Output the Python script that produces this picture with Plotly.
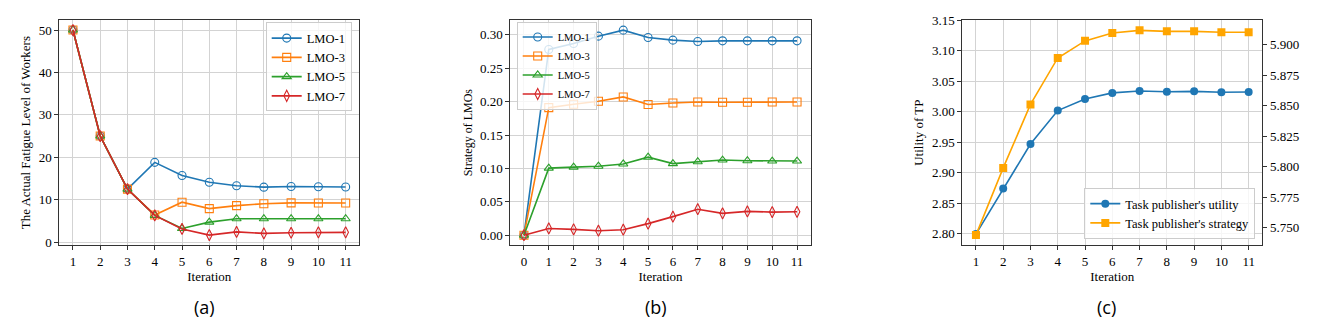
import plotly.graph_objects as go

# ---------------- data ----------------
iter_a = [1, 2, 3, 4, 5, 6, 7, 8, 9, 10, 11]
fatigue_lmo1 = [50, 25, 12.5, 18.8, 15.7, 14.1, 13.3, 12.95, 13.1, 13.05, 13.0]
fatigue_lmo3 = [50, 25, 12.5, 6.4, 9.4, 7.9, 8.6, 9.05, 9.25, 9.2, 9.2]
fatigue_lmo5 = [50, 25, 12.5, 6.3, 3.2, 4.7, 5.5, 5.5, 5.5, 5.5, 5.5]
fatigue_lmo7 = [50, 25, 12.5, 6.3, 3.1, 1.65, 2.4, 2.05, 2.2, 2.3, 2.3]

iter_b = [0, 1, 2, 3, 4, 5, 6, 7, 8, 9, 10, 11]
strategy_lmo1 = [0, 0.278, 0.287, 0.298, 0.307, 0.296, 0.292, 0.290, 0.291, 0.291, 0.291, 0.291]
strategy_lmo3 = [0, 0.191, 0.196, 0.2005, 0.207, 0.1956, 0.198, 0.1995, 0.199, 0.199, 0.1995, 0.1995]
strategy_lmo5 = [0, 0.1004, 0.1019, 0.1033, 0.1067, 0.1168, 0.1072, 0.110, 0.1125, 0.1115, 0.111, 0.111]
strategy_lmo7 = [0, 0.0101, 0.0087, 0.0067, 0.0082, 0.0173, 0.0278, 0.0389, 0.0327, 0.0356, 0.0346, 0.035]

iter_c = [1, 2, 3, 4, 5, 6, 7, 8, 9, 10, 11]
tp_utility = [2.799, 2.874, 2.947, 3.002, 3.021, 3.031, 3.034, 3.033, 3.0335, 3.032, 3.0325]
tp_strategy = [5.744, 5.799, 5.851, 5.889, 5.903, 5.9095, 5.9116, 5.9108, 5.9108, 5.910, 5.910]

lmo_names = ["LMO-1", "LMO-3", "LMO-5", "LMO-7"]
ticks_a_y = [0, 10, 20, 30, 40, 50]
ticks_b_y = [0.00, 0.05, 0.10, 0.15, 0.20, 0.25, 0.30]
ticks_c_y = [2.80, 2.85, 2.90, 2.95, 3.00, 3.05, 3.10, 3.15]
ticks_c_y2 = [5.750, 5.775, 5.800, 5.825, 5.850, 5.875, 5.900]
captions = ["(a)", "(b)", "(c)"]

# ---------------- style ----------------
colors = ["#1f77b4", "#ff7f0e", "#2ca02c", "#d62728"]
symbols = ["circle-open", "square-open", "triangle-up-open", "diamond-tall-open"]
SERIF = "Liberation Serif"
W, H = 1321, 330
FS = 13

def px_x(a, b):
    return [a / W, b / W]

y_dom = [1 - 246.7 / H, 1 - 13.3 / H]

fig = go.Figure()

for name, ys, c, s in zip(lmo_names, [fatigue_lmo1, fatigue_lmo3, fatigue_lmo5, fatigue_lmo7], colors, symbols):
    fig.add_trace(go.Scatter(x=iter_a, y=ys, name=name, mode="lines+markers",
                             line=dict(color=c, width=1.6),
                             marker=dict(symbol=s, size=8, color=c, line=dict(width=1.1, color=c)),
                             xaxis="x", yaxis="y", legend="legend"))

for name, ys, c, s in zip(lmo_names, [strategy_lmo1, strategy_lmo3, strategy_lmo5, strategy_lmo7], colors, symbols):
    fig.add_trace(go.Scatter(x=iter_b, y=ys, name=name, mode="lines+markers",
                             line=dict(color=c, width=1.6),
                             marker=dict(symbol=s, size=8, color=c, line=dict(width=1.1, color=c)),
                             xaxis="x2", yaxis="y2", legend="legend2"))

fig.add_trace(go.Scatter(x=iter_c, y=tp_utility, name="Task publisher's utility", mode="lines+markers",
                         line=dict(color="#1f77b4", width=1.6),
                         marker=dict(symbol="circle", size=8, color="#1f77b4"),
                         xaxis="x3", yaxis="y3", legend="legend3"))
fig.add_trace(go.Scatter(x=iter_c, y=tp_strategy, name="Task publisher's strategy", mode="lines+markers",
                         line=dict(color="orange", width=1.6),
                         marker=dict(symbol="square", size=8, color="orange"),
                         xaxis="x3", yaxis="y4", legend="legend3"))

axis_common = dict(showline=True, linecolor="#333", linewidth=1, mirror=True,
                   showgrid=True, gridcolor="#d3d3d3", gridwidth=1,
                   ticks="outside", ticklen=4, tickcolor="#333", tickwidth=1,
                   tickfont=dict(family=SERIF, size=FS, color="black"),
                   zeroline=False)
title_font = dict(family=SERIF, size=FS, color="black")

legend_common = dict(bgcolor="rgba(255,255,255,0.8)", bordercolor="#cccccc", borderwidth=1,
                     font=dict(family=SERIF, size=12.5, color="black"),
                     tracegroupgap=0, itemwidth=30)

fig.update_layout(
    width=W, height=H, margin=dict(l=0, r=0, t=0, b=0),
    font=dict(family=SERIF, size=FS, color="black"),
    plot_bgcolor="white", paper_bgcolor="white",
    xaxis=dict(domain=px_x(59.3, 359.3), anchor="y", range=[0.5, 11.5],
               tickvals=iter_a, title=dict(text="Iteration", font=title_font, standoff=3), **axis_common),
    yaxis=dict(domain=y_dom, anchor="x", range=[-0.8, 52.4], tickvals=ticks_a_y,
               title=dict(text="The Actual Fatigue Level of Workers", font=title_font, standoff=5), **axis_common),
    xaxis2=dict(domain=px_x(510.3, 810.7), anchor="y2", range=[-0.55, 11.55],
                tickvals=iter_b, title=dict(text="Iteration", font=title_font, standoff=3), **axis_common),
    yaxis2=dict(domain=y_dom, anchor="x2", range=[-0.0154, 0.3224], tickvals=ticks_b_y, tickformat=".2f",
                title=dict(text="Strategy of LMOs", font=dict(family=SERIF, size=12, color="black"), standoff=4),
                **axis_common),
    xaxis3=dict(domain=px_x(962.3, 1262.3), anchor="y3", range=[0.5, 11.5],
                tickvals=iter_c, title=dict(text="Iteration", font=title_font, standoff=3), **axis_common),
    yaxis3=dict(domain=y_dom, anchor="x3", range=[2.7803, 3.151], tickvals=ticks_c_y, tickformat=".2f",
                title=dict(text="Utility of TP", font=title_font, standoff=5), **axis_common),
    yaxis4=dict(anchor="x3", overlaying="y3", side="right", range=[5.7355, 5.9202],
                tickvals=ticks_c_y2, tickformat=".3f",
                showline=True, linecolor="#333", linewidth=1, showgrid=False,
                ticks="outside", ticklen=4, tickcolor="#333", tickwidth=1,
                tickfont=dict(family=SERIF, size=FS, color="black"), zeroline=False),
    legend=dict(x=351.7 / W, y=1 - 16 / H, xanchor="right", yanchor="top", **legend_common),
    legend2=dict(x=516.7 / W, y=1 - 15 / H, xanchor="left", yanchor="top",
                 **{**legend_common, "font": dict(family=SERIF, size=10.5, color="black")}),
    legend3=dict(x=1255.3 / W, y=1 - 240 / H, xanchor="right", yanchor="bottom", **legend_common),
)

cap_x = [204, 656, 1106.7]
for cx, txt in zip(cap_x, captions):
    fig.add_annotation(x=cx / W, y=1 - 310 / H, xref="paper", yref="paper", text=txt,
                       showarrow=False, xanchor="center", yanchor="middle",
                       font=dict(family="Open Sans", size=18, color="black"))

fig.write_html("out.html")
